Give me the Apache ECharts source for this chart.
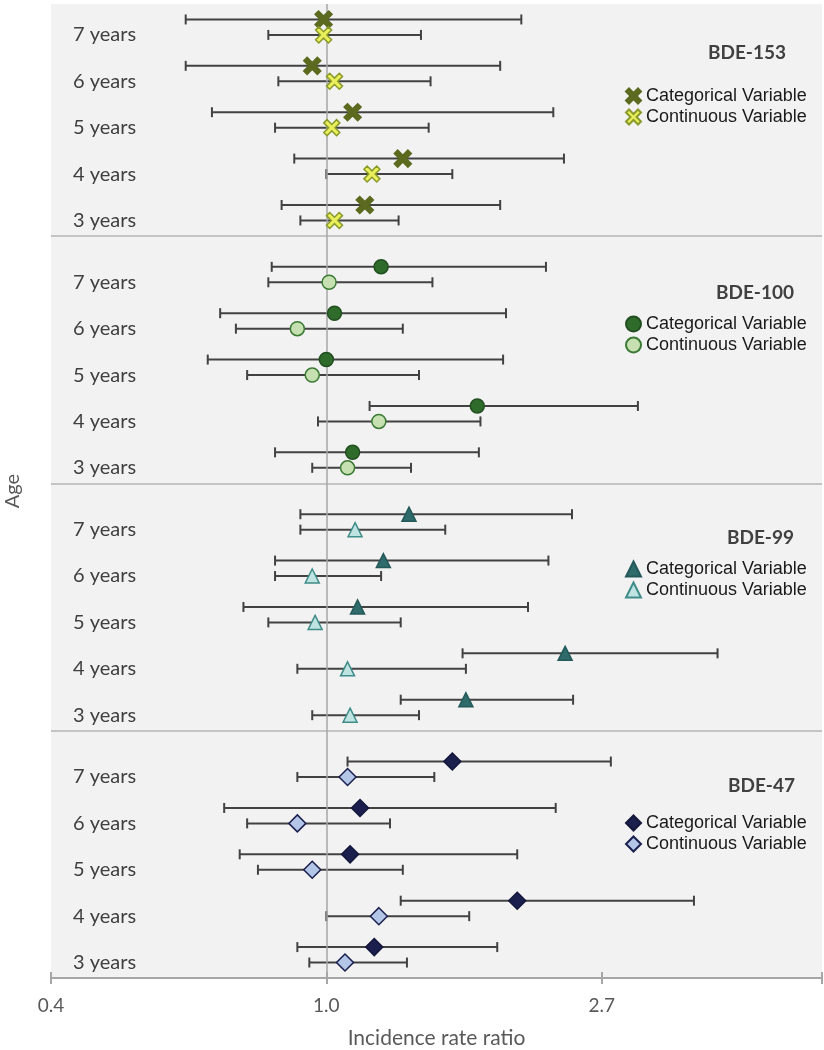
<!DOCTYPE html>
<html style="height: 100%">
<head>
<meta charset="utf-8">
<script src="https://cdn.jsdelivr.net/npm/echarts@6/dist/echarts.min.js"></script>
</head>
<body style="height: 100%; margin: 0; background: #fff">
<div id="container" style="width: 824px; height: 1050px"></div>
<script type="text/javascript">
// groups from bottom to top, ages from 3 to 7 years
var groups = ['BDE-47', 'BDE-99', 'BDE-100', 'BDE-153'];
var ages = ['3 years', '4 years', '5 years', '6 years', '7 years'];
var xTicks = ['0.4', '1.0', '2.7'];

// [IRR, lower CI, upper CI] for 3..7 years
var bde47Cat   = [[1.19, 0.90, 1.86], [2.00, 1.31, 3.80], [1.09, 0.73, 2.00], [1.13, 0.69, 2.30], [1.58, 1.08, 2.81]];
var bde47Cont  = [[1.07, 0.94, 1.34], [1.21, 1.00, 1.68], [0.95, 0.78, 1.32], [0.90, 0.75, 1.26], [1.08, 0.90, 1.48]];
var bde99Cat   = [[1.66, 1.31, 2.45], [2.38, 1.64, 4.14], [1.12, 0.74, 2.08], [1.23, 0.83, 2.24], [1.35, 0.91, 2.44]];
var bde99Cont  = [[1.09, 0.95, 1.40], [1.08, 0.90, 1.66], [0.96, 0.81, 1.31], [0.95, 0.83, 1.22], [1.11, 0.91, 1.54]];
var bde100Cat  = [[1.10, 0.83, 1.74], [1.73, 1.17, 3.10], [1.00, 0.65, 1.90], [1.03, 0.68, 1.92], [1.22, 0.82, 2.22]];
var bde100Cont = [[1.08, 0.95, 1.36], [1.21, 0.97, 1.75], [0.95, 0.75, 1.40], [0.90, 0.72, 1.32], [1.01, 0.81, 1.47]];
var bde153Cat  = [[1.15, 0.85, 1.88], [1.32, 0.89, 2.37], [1.10, 0.66, 2.28], [0.95, 0.60, 1.88], [0.99, 0.60, 2.03]];
var bde153Cont = [[1.03, 0.91, 1.30], [1.18, 1.00, 1.58], [1.02, 0.83, 1.45], [1.03, 0.84, 1.46], [0.99, 0.81, 1.41]];

var xSymbol = 'path://M-1,-0.6L-0.6,-1L0,-0.4L0.6,-1L1,-0.6L0.4,0L1,0.6L0.6,1L0,0.4L-0.6,1L-1,0.6L-0.4,0Z';

var styles = [
  {cat: {symbol: 'diamond', size: 17, color: '#1b1f4d', border: '#14173a'},
   cont: {symbol: 'diamond', size: 17, color: '#b4c6e8', border: '#1b1f4d'}},
  {cat: {symbol: 'triangle', size: 14, color: '#2e6b6a', border: '#24595a'},
   cont: {symbol: 'triangle', size: 14, color: '#bfe3e0', border: '#3f8c89'}},
  {cat: {symbol: 'circle', size: 14, color: '#2f6b2b', border: '#224f20'},
   cont: {symbol: 'circle', size: 14, color: '#c6e0b2', border: '#3b7a34'}},
  {cat: {symbol: xSymbol, size: 17, color: '#5b6a1f', border: '#5b6a1f'},
   cont: {symbol: xSymbol, size: 16, color: '#e9ef5b', border: '#8a9a2a'}}
];
var catData = [bde47Cat, bde99Cat, bde100Cat, bde153Cat];
var contData = [bde47Cont, bde99Cont, bde100Cont, bde153Cont];

// row position on the y value axis: 16 units per group, 3 per age
function rowY(g, k, isCat) {
  return 16 * g + 1 + 3 * k + (isCat ? 1 : 0);
}

var series = [];
var legends = [];
var titles = [];
var titleTop = [771, 523, 278, 38];
var titleRight = [24, 25, 25, 33];
var legendTop = [809, 555, 310, 82];

function errorSeries(rows, g, isCat) {
  return {
    type: 'custom',
    silent: true,
    z: 2,
    data: rows.map(function (r, k) {
      return [Math.log(r[1]), Math.log(r[2]), rowY(g, k, isCat)];
    }),
    encode: {x: [0, 1], y: 2},
    renderItem: function (params, api) {
      var y = api.value(2);
      var p0 = api.coord([api.value(0), y]);
      var p1 = api.coord([api.value(1), y]);
      var h = 5;
      var st = {stroke: '#424242', lineWidth: 2};
      return {
        type: 'group',
        children: [
          {type: 'line', shape: {x1: p0[0], y1: p0[1], x2: p1[0], y2: p1[1]}, style: st},
          {type: 'line', shape: {x1: p0[0], y1: p0[1] - h, x2: p0[0], y2: p0[1] + h}, style: st},
          {type: 'line', shape: {x1: p1[0], y1: p1[1] - h, x2: p1[0], y2: p1[1] + h}, style: st}
        ]
      };
    }
  };
}

function pointSeries(name, rows, g, isCat, st) {
  return {
    name: name,
    type: 'scatter',
    z: 5,
    symbol: st.symbol,
    symbolSize: st.size,
    itemStyle: {color: st.color, borderColor: st.border, borderWidth: 1.5, opacity: 1},
    data: rows.map(function (r, k) {
      return [Math.log(r[0]), rowY(g, k, isCat)];
    })
  };
}

for (var g = 0; g < groups.length; g++) {
  var catName = groups[g] + ' Categorical Variable';
  var contName = groups[g] + ' Continuous Variable';
  series.push(errorSeries(catData[g], g, true));
  series.push(errorSeries(contData[g], g, false));
  series.push(pointSeries(catName, catData[g], g, true, styles[g].cat));
  series.push(pointSeries(contName, contData[g], g, false, styles[g].cont));
  legends.push({
    orient: 'vertical',
    left: 620,
    top: legendTop[g],
    itemWidth: 15,
    itemHeight: 15,
    itemGap: 3,
    selectedMode: false,
    data: [catName, contName],
    formatter: function (name) {
      return name.replace(/^BDE-\d+ /, '');
    },
    textStyle: {fontFamily: 'Liberation Sans', fontSize: 18, color: '#1a1a1a'}
  });
  titles.push({
    text: groups[g],
    right: titleRight[g],
    top: titleTop[g],
    textStyle: {fontFamily: 'Lato', fontWeight: 'bold', fontSize: 19, color: '#404040'}
  });
}

// vertical reference line at IRR = 1
series[2].markLine = {
  silent: true,
  symbol: 'none',
  label: {show: false},
  lineStyle: {color: '#a6a6a6', width: 1.5, type: 'solid'},
  data: [{xAxis: 0}]
};

var dom = document.getElementById('container');
var myChart = echarts.init(dom);
var option = {
  backgroundColor: '#ffffff',
  animation: false,
  title: titles,
  legend: legends,
  grid: {
    left: 51, right: 2, top: 4, bottom: 72,
    show: true, backgroundColor: '#f2f2f2', borderWidth: 0,
    outerBoundsMode: 'none'
  },
  xAxis: [{
    type: 'value',
    position: 'bottom',
    min: -1,
    max: 1.8,
    interval: 1,
    name: 'Incidence rate ratio',
    nameLocation: 'middle',
    nameGap: 50,
    nameTextStyle: {fontFamily: 'Lato', fontSize: 21, color: '#595959'},
    axisLine: {lineStyle: {color: '#a6a6a6', width: 2}},
    axisTick: {length: 6, lineStyle: {color: '#a6a6a6', width: 2}},
    splitLine: {show: false},
    axisLabel: {
      margin: 18,
      fontFamily: 'Lato',
      fontSize: 19,
      color: '#595959',
      formatter: function (v) {
        var i = Math.round(v);
        return Math.abs(v - i) < 1e-6 ? xTicks[i + 1] : '';
      }
    }
  }, {
    // inner half of the tick marks, so they cross the axis line
    type: 'value',
    position: 'bottom',
    min: -1,
    max: 1.8,
    interval: 1,
    axisLine: {show: false},
    axisTick: {inside: true, length: 6, lineStyle: {color: '#a6a6a6', width: 2}},
    axisLabel: {show: false},
    splitLine: {show: false}
  }],
  yAxis: [{
    type: 'value',
    position: 'left',
    min: 0,
    max: 63,
    interval: 16,
    name: 'Age',
    nameLocation: 'middle',
    nameGap: 28,
    nameTextStyle: {fontFamily: 'Lato', fontSize: 20, color: '#595959'},
    axisLine: {show: false},
    axisTick: {show: false},
    axisLabel: {show: false},
    splitLine: {show: true, showMinLine: false, showMaxLine: false, lineStyle: {color: '#c4c4c4', width: 2}}
  }, {
    type: 'value',
    position: 'left',
    min: 0,
    max: 63,
    interval: 1,
    axisLine: {show: false},
    axisTick: {show: false},
    splitLine: {show: false},
    axisLabel: {
      inside: true,
      margin: 22,
      fontFamily: 'Lato',
      fontSize: 20,
      color: '#404040',
      formatter: function (v) {
        var r = v % 16;
        if (r >= 1 && r <= 13 && (r - 1) % 3 === 0) return ages[(r - 1) / 3];
        return '';
      }
    }
  }],
  series: series
};
myChart.setOption(option);
</script>
</body>
</html>
